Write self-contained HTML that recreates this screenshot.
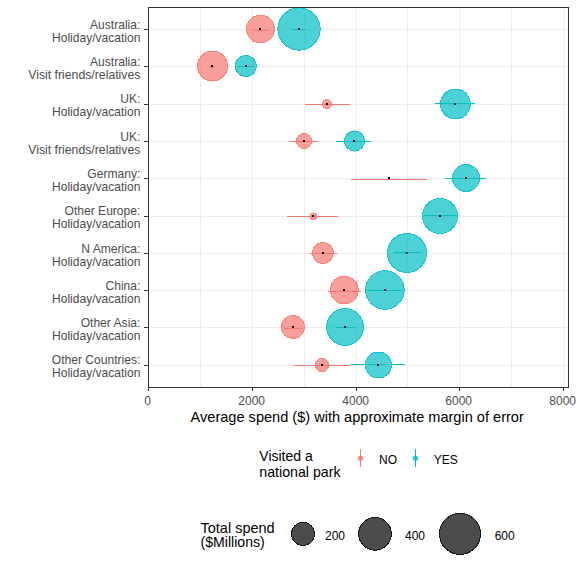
<!DOCTYPE html><html><head><meta charset="utf-8"><style>html,body{margin:0;padding:0;background:#fff;}svg{display:block;font-family:"Liberation Sans",sans-serif;}</style></head><body>
<svg width="576" height="576" viewBox="0 0 576 576">
<rect width="576" height="576" fill="#fff"/>
<g stroke="#EBEBEB" stroke-width="1" shape-rendering="crispEdges"><line x1="200.5" y1="8" x2="200.5" y2="387"/><line x1="252.5" y1="8" x2="252.5" y2="387"/><line x1="304.5" y1="8" x2="304.5" y2="387"/><line x1="356.5" y1="8" x2="356.5" y2="387"/><line x1="407.5" y1="8" x2="407.5" y2="387"/><line x1="459.5" y1="8" x2="459.5" y2="387"/><line x1="511.5" y1="8" x2="511.5" y2="387"/><line x1="563.5" y1="8" x2="563.5" y2="387"/><line x1="149" y1="29.5" x2="568" y2="29.5"/><line x1="149" y1="66.5" x2="568" y2="66.5"/><line x1="149" y1="104.5" x2="568" y2="104.5"/><line x1="149" y1="141.5" x2="568" y2="141.5"/><line x1="149" y1="178.5" x2="568" y2="178.5"/><line x1="149" y1="216.5" x2="568" y2="216.5"/><line x1="149" y1="253.5" x2="568" y2="253.5"/><line x1="149" y1="290.5" x2="568" y2="290.5"/><line x1="149" y1="327.5" x2="568" y2="327.5"/><line x1="149" y1="365.5" x2="568" y2="365.5"/></g>
<g shape-rendering="crispEdges"><rect x="253" y="30" width="15" height="1" fill="#F8766D"/><rect x="292" y="29" width="14" height="1" fill="#00BFC4"/><circle cx="260.4" cy="29" r="14.4" fill="#F8766D" fill-opacity="0.7"/><circle cx="260.4" cy="29" r="13.9" fill="none" stroke="#F8766D" stroke-opacity="0.7" stroke-width="1"/><circle cx="299" cy="29" r="21.7" fill="#00BFC4" fill-opacity="0.7"/><circle cx="299" cy="29" r="21.2" fill="none" stroke="#00BFC4" stroke-opacity="0.7" stroke-width="1"/><rect x="259" y="28" width="2" height="2" fill="#000"/><rect x="298" y="28" width="2" height="2" fill="#000"/><rect x="209" y="67" width="6" height="1" fill="#F8766D"/><rect x="238" y="66" width="16" height="1" fill="#00BFC4"/><circle cx="212.5" cy="66" r="15.5" fill="#F8766D" fill-opacity="0.7"/><circle cx="212.5" cy="66" r="15.0" fill="none" stroke="#F8766D" stroke-opacity="0.7" stroke-width="1"/><circle cx="245.9" cy="66" r="11" fill="#00BFC4" fill-opacity="0.7"/><circle cx="245.9" cy="66" r="10.5" fill="none" stroke="#00BFC4" stroke-opacity="0.7" stroke-width="1"/><rect x="211" y="65" width="2" height="2" fill="#000"/><rect x="245" y="65" width="2" height="2" fill="#000"/><rect x="305" y="104" width="45" height="1" fill="#F8766D"/><rect x="435" y="103" width="40" height="1" fill="#00BFC4"/><circle cx="326.9" cy="104" r="5" fill="#F8766D" fill-opacity="0.7"/><circle cx="326.9" cy="104" r="4.5" fill="none" stroke="#F8766D" stroke-opacity="0.7" stroke-width="1"/><circle cx="455.45" cy="104" r="15.4" fill="#00BFC4" fill-opacity="0.7"/><circle cx="455.45" cy="104" r="14.9" fill="none" stroke="#00BFC4" stroke-opacity="0.7" stroke-width="1"/><rect x="326" y="103" width="2" height="2" fill="#000"/><rect x="454" y="103" width="2" height="2" fill="#000"/><rect x="289" y="141" width="29" height="1" fill="#F8766D"/><rect x="336" y="141" width="35" height="1" fill="#00BFC4"/><circle cx="304" cy="141" r="8" fill="#F8766D" fill-opacity="0.7"/><circle cx="304" cy="141" r="7.5" fill="none" stroke="#F8766D" stroke-opacity="0.7" stroke-width="1"/><circle cx="354.55" cy="141" r="10.55" fill="#00BFC4" fill-opacity="0.7"/><circle cx="354.55" cy="141" r="10.05" fill="none" stroke="#00BFC4" stroke-opacity="0.7" stroke-width="1"/><rect x="303" y="140" width="2" height="2" fill="#000"/><rect x="353" y="140" width="2" height="2" fill="#000"/><rect x="351" y="179" width="76" height="1" fill="#F8766D"/><rect x="445" y="178" width="41" height="1" fill="#00BFC4"/><circle cx="466" cy="178" r="14" fill="#00BFC4" fill-opacity="0.7"/><circle cx="466" cy="178" r="13.5" fill="none" stroke="#00BFC4" stroke-opacity="0.7" stroke-width="1"/><rect x="388" y="177" width="2" height="2" fill="#000"/><rect x="465" y="177" width="2" height="2" fill="#000"/><rect x="287" y="216" width="51" height="1" fill="#F8766D"/><rect x="424" y="215" width="32" height="1" fill="#00BFC4"/><circle cx="313.5" cy="216.5" r="3.6" fill="#F8766D" fill-opacity="0.7"/><circle cx="313.5" cy="216.5" r="3.1" fill="none" stroke="#F8766D" stroke-opacity="0.7" stroke-width="1"/><circle cx="440" cy="216" r="18" fill="#00BFC4" fill-opacity="0.7"/><circle cx="440" cy="216" r="17.5" fill="none" stroke="#00BFC4" stroke-opacity="0.7" stroke-width="1"/><rect x="312" y="215" width="2" height="2" fill="#000"/><rect x="439" y="215" width="2" height="2" fill="#000"/><rect x="310" y="253" width="27" height="1" fill="#F8766D"/><rect x="394" y="252" width="26" height="1" fill="#00BFC4"/><circle cx="322.95" cy="253" r="11" fill="#F8766D" fill-opacity="0.7"/><circle cx="322.95" cy="253" r="10.5" fill="none" stroke="#F8766D" stroke-opacity="0.7" stroke-width="1"/><circle cx="407" cy="253" r="20" fill="#00BFC4" fill-opacity="0.7"/><circle cx="407" cy="253" r="19.5" fill="none" stroke="#00BFC4" stroke-opacity="0.7" stroke-width="1"/><rect x="322" y="252" width="2" height="2" fill="#000"/><rect x="406" y="252" width="2" height="2" fill="#000"/><rect x="328" y="291" width="33" height="1" fill="#F8766D"/><rect x="369" y="290" width="33.5" height="1" fill="#00BFC4"/><circle cx="344.3" cy="290" r="14.4" fill="#F8766D" fill-opacity="0.7"/><circle cx="344.3" cy="290" r="13.9" fill="none" stroke="#F8766D" stroke-opacity="0.7" stroke-width="1"/><circle cx="384.9" cy="290" r="19.8" fill="#00BFC4" fill-opacity="0.7"/><circle cx="384.9" cy="290" r="19.3" fill="none" stroke="#00BFC4" stroke-opacity="0.7" stroke-width="1"/><rect x="343" y="289" width="2" height="2" fill="#000"/><rect x="384" y="289" width="2" height="2" fill="#000"/><rect x="284" y="328" width="19" height="1" fill="#F8766D"/><rect x="336" y="327" width="19" height="1" fill="#00BFC4"/><circle cx="292.9" cy="327" r="12" fill="#F8766D" fill-opacity="0.7"/><circle cx="292.9" cy="327" r="11.5" fill="none" stroke="#F8766D" stroke-opacity="0.7" stroke-width="1"/><circle cx="345" cy="327" r="18.9" fill="#00BFC4" fill-opacity="0.7"/><circle cx="345" cy="327" r="18.4" fill="none" stroke="#00BFC4" stroke-opacity="0.7" stroke-width="1"/><rect x="292" y="326" width="2" height="2" fill="#000"/><rect x="344" y="326" width="2" height="2" fill="#000"/><rect x="294" y="365" width="56" height="1" fill="#F8766D"/><rect x="351" y="364" width="54" height="1" fill="#00BFC4"/><circle cx="322" cy="365" r="7.05" fill="#F8766D" fill-opacity="0.7"/><circle cx="322" cy="365" r="6.55" fill="none" stroke="#F8766D" stroke-opacity="0.7" stroke-width="1"/><circle cx="378.45" cy="365" r="13.5" fill="#00BFC4" fill-opacity="0.7"/><circle cx="378.45" cy="365" r="13.0" fill="none" stroke="#00BFC4" stroke-opacity="0.7" stroke-width="1"/><rect x="321" y="364" width="2" height="2" fill="#000"/><rect x="377" y="364" width="2" height="2" fill="#000"/></g>
<rect x="148.5" y="7.5" width="420" height="380" fill="none" stroke="#333" stroke-width="1"/>
<g fill="#333"><rect x="144" y="29" width="4" height="1"/><rect x="144" y="66" width="4" height="1"/><rect x="144" y="104" width="4" height="1"/><rect x="144" y="141" width="4" height="1"/><rect x="144" y="178" width="4" height="1"/><rect x="144" y="216" width="4" height="1"/><rect x="144" y="253" width="4" height="1"/><rect x="144" y="290" width="4" height="1"/><rect x="144" y="327" width="4" height="1"/><rect x="144" y="365" width="4" height="1"/><rect x="148" y="388" width="1" height="3"/><rect x="252" y="388" width="1" height="3"/><rect x="356" y="388" width="1" height="3"/><rect x="459" y="388" width="1" height="3"/><rect x="563" y="388" width="1" height="3"/></g>
<g fill="#4D4D4D" font-size="12.08" text-anchor="end"><text x="140.4" y="29.00">Australia:</text><text x="140.4" y="42.00" font-size="12.05">Holiday/vacation</text><text x="140.4" y="66.00">Australia:</text><text x="140.4" y="79.00" font-size="12.25">Visit friends/relatives</text><text x="140.4" y="103.00">UK:</text><text x="140.4" y="116.00" font-size="12.05">Holiday/vacation</text><text x="140.4" y="141.00">UK:</text><text x="140.4" y="154.00" font-size="12.25">Visit friends/relatives</text><text x="140.4" y="178.00">Germany:</text><text x="140.4" y="191.00" font-size="12.05">Holiday/vacation</text><text x="140.4" y="215.00">Other Europe:</text><text x="140.4" y="228.00" font-size="12.05">Holiday/vacation</text><text x="140.4" y="253.00">N America:</text><text x="140.4" y="266.00" font-size="12.05">Holiday/vacation</text><text x="140.4" y="290.00">China:</text><text x="140.4" y="303.00" font-size="12.05">Holiday/vacation</text><text x="140.4" y="327.00">Other Asia:</text><text x="140.4" y="340.00" font-size="12.05">Holiday/vacation</text><text x="140.4" y="364.00">Other Countries:</text><text x="140.4" y="377.00" font-size="12.05">Holiday/vacation</text></g>
<g fill="#4D4D4D" font-size="12" text-anchor="middle"><text x="147.7" y="405.3">0</text><text x="251.7" y="405.3">2000</text><text x="355.7" y="405.3">4000</text><text x="458.7" y="405.3">6000</text><text x="562.7" y="405.3">8000</text></g>
<text x="357.2" y="421.9" font-size="14.57" text-anchor="middle" fill="#000">Average spend ($) with approximate margin of error</text>
<text x="259.3" y="460.5" font-size="14.0" fill="#000">Visited a</text><text x="259.3" y="476.5" font-size="14.2" fill="#000">national park</text>
<rect x="360" y="449" width="1" height="18" fill="#F8766D"/><circle cx="360.5" cy="458.3" r="2.6" fill="#F8766D" fill-opacity="0.7"/><circle cx="360.5" cy="458.3" r="2.1" fill="none" stroke="#F8766D" stroke-opacity="0.7"/>
<rect x="415" y="449" width="1" height="18" fill="#00BFC4"/><circle cx="415.5" cy="458.3" r="2.6" fill="#00BFC4" fill-opacity="0.7"/><circle cx="415.5" cy="458.3" r="2.1" fill="none" stroke="#00BFC4" stroke-opacity="0.7"/>
<text x="379.1" y="464" font-size="12" fill="#000">NO</text><text x="433.8" y="464" font-size="12" fill="#000">YES</text>
<text x="200.5" y="532.9" font-size="14.5" fill="#000">Total spend</text><text x="200.5" y="547.1" font-size="14.1" fill="#000">($Millions)</text>
<circle cx="303" cy="533.9" r="12" fill="#000" fill-opacity="0.7" shape-rendering="crispEdges"/><circle cx="303" cy="533.9" r="11.5" fill="none" stroke="#000" stroke-opacity="0.7" stroke-width="1" shape-rendering="crispEdges"/>
<circle cx="375" cy="533.9" r="16.8" fill="#000" fill-opacity="0.7" shape-rendering="crispEdges"/><circle cx="375" cy="533.9" r="16.3" fill="none" stroke="#000" stroke-opacity="0.7" stroke-width="1" shape-rendering="crispEdges"/>
<circle cx="460" cy="533.9" r="21" fill="#000" fill-opacity="0.7" shape-rendering="crispEdges"/><circle cx="460" cy="533.9" r="20.5" fill="none" stroke="#000" stroke-opacity="0.7" stroke-width="1" shape-rendering="crispEdges"/>
<g font-size="12" fill="#000"><text x="325" y="539.8">200</text><text x="405" y="539.8">400</text><text x="494.7" y="539.8">600</text></g>
</svg></body></html>
